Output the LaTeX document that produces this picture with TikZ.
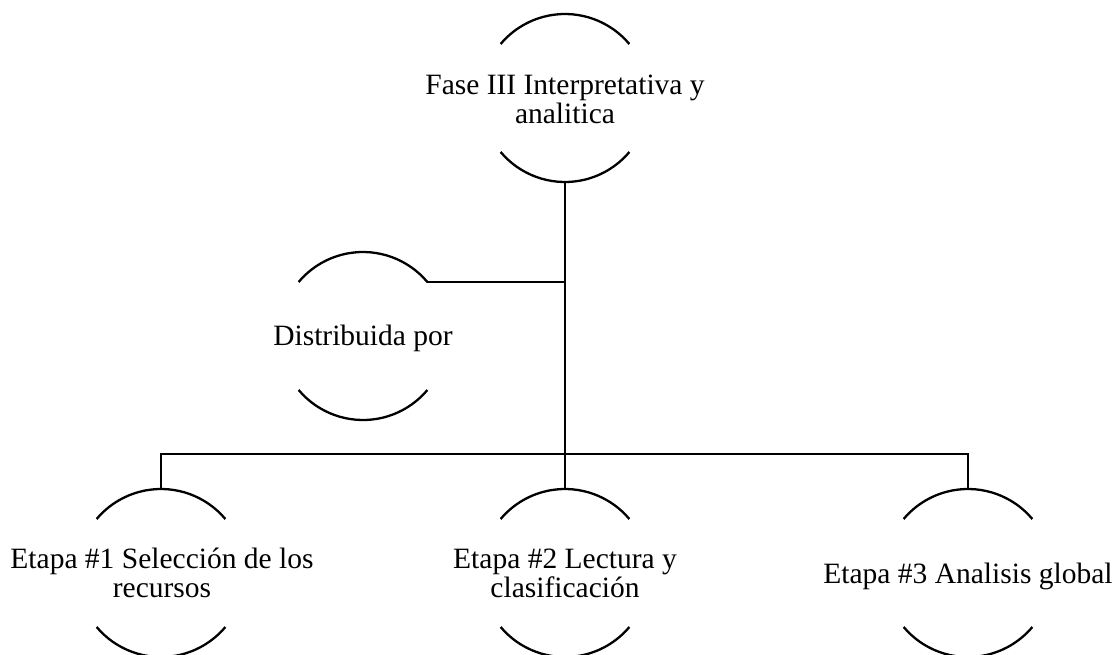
\documentclass[tikz,border=0pt]{standalone}
\usepackage{fontspec}
\setmainfont{Liberation Serif}
\begin{document}
\begin{tikzpicture}[x=1pt,y=-1pt,
  ring/.style={circle,minimum size=168pt,inner sep=0pt,outer sep=0pt},
  lbl/.style={font=\fontsize{29.5}{29}\selectfont,align=center,inner sep=0pt,anchor=base},
  wire/.style={line width=2.3pt},
  arcline/.style={line width=2.3pt}]
\useasboundingbox (0,0) rectangle (1114,654);
\fill[white] (0,0) rectangle (1114,654);
% ring nodes
\node[ring] (top) at (565,98) {};
\node[ring] (dist) at (363,336) {};
\node[ring] (e1) at (161,573) {};
\node[ring] (e2) at (565,573) {};
\node[ring] (e3) at (968,573) {};
\foreach \n in {top,dist,e1,e2,e3}{
  \draw[arcline] (\n.40) arc[start angle=40,end angle=140,radius=84pt];
  \draw[arcline] (\n.-140) arc[start angle=-140,end angle=-40,radius=84pt];
}
% labels (base anchor = baseline of last line)
\node[lbl] (ttop) at (565,123) {Fase III Interpretativa y\\analitica};
\node[lbl] (tdist) at (363,345) {Distribuida por};
\node[lbl] (te1) at (162,597) {Etapa \#1 Selección de los\\recursos};
\node[lbl] (te2) at (565,597) {Etapa \#2 Lectura y\\clasificación};
\node[lbl] (te3) at (968,583) {Etapa \#3 Analisis global};
% connectors
\coordinate (bus) at (565,454);
\draw[wire] (top.south) -- (e2.north);
\draw[wire] (dist.40) -- (dist.40 -| top.south);
\draw[wire] (e1.north) |- (bus) -| (e3.north);
\end{tikzpicture}
\end{document}
